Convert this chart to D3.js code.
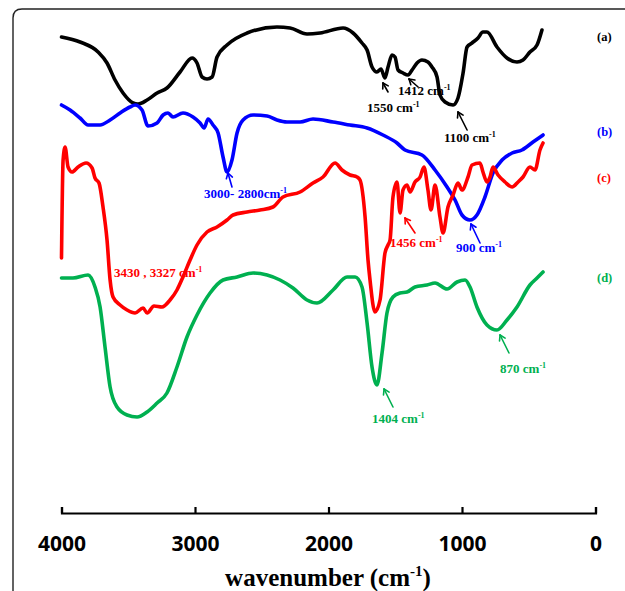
<!DOCTYPE html>
<html>
<head>
<meta charset="utf-8">
<script src="https://cdn.jsdelivr.net/npm/d3@7"></script>
<style>
  html, body { margin: 0; padding: 0; background: #fff; }
  svg { display: block; }
</style>
</head>
<body>
<svg id="chart" width="625" height="591"></svg>
<script>
// ---------------- DATA ----------------
// wavenumber (cm-1) and transmittance-like intensity (a.u., offset per trace)
const wnA = [4000,3861,3726,3659,3599,3539,3464,3427,3359,3284,3210,3112,3022,2985,2947,2910,2872,2835,2760,2610,2386,2288,2161,2063,1891,1816,1749,1711,1674,1637,1607,1577,1554,1524,1502,1479,1442,1404,1374,1337,1300,1255,1225,1187,1165,1127,1067,1030,992,962,925,880,843,813,738,663,588,543,491,438,401];
const valA = [92.6,91.6,89.6,87.4,84,81.4,79.4,79.2,80,81.4,82.4,85.6,88.4,87.4,84.6,84.2,84.6,88.6,91,93.4,94.6,94.4,93.2,93.4,94.4,93.4,91.4,90,86.6,85.6,86.2,84.4,86.6,89,88.6,86,85.4,85,86,87.4,88,87.6,86.6,84.6,81,79.6,79,80.4,85.4,90.6,91.4,92.4,93.6,93.6,90.6,88.4,87.6,88,89.6,91,94];

const wnB = [4000,3936,3861,3801,3711,3636,3561,3487,3449,3397,3352,3284,3239,3202,3165,3090,3015,2962,2932,2902,2865,2827,2790,2760,2723,2685,2640,2565,2460,2386,2311,2213,2116,1966,1839,1711,1592,1487,1427,1300,1202,1112,1052,1000,940,888,828,768,700,625,551,468,393];
const valB = [79,78,76.4,75,75,76,77.4,78.6,79,78,74.8,75.4,77,77.4,76.6,77.4,76.6,75.4,74.4,76.2,75,73.4,68.6,65.6,68,73.4,76,77,76.8,76,75.6,75.6,76.2,75.6,75,74.4,73,71.4,70,69,66,62.6,60,57,56,57,60.6,65.4,68,69.4,70,71.6,73];

const wnC = [4000,3988,3973,3951,3921,3876,3816,3771,3749,3719,3689,3659,3636,3614,3561,3509,3449,3389,3359,3307,3247,3187,3135,3090,3037,2985,2910,2835,2760,2715,2610,2513,2416,2341,2213,2116,2041,1951,1899,1839,1786,1764,1726,1704,1689,1652,1614,1577,1554,1539,1517,1487,1464,1442,1412,1389,1352,1314,1285,1255,1232,1202,1165,1142,1105,1067,1030,1000,955,925,865,843,813,790,768,730,678,625,580,543,491,453,416,393];
const valC = [48.4,68,70.6,66.6,65.6,66.6,67.4,66.4,64.4,63.4,58.6,52,44,40.6,39,38,37.4,38.4,37.4,38.8,38.6,40,42,44.6,48,51,53.6,54.6,56,57,57.6,58,58.6,60.6,61.6,63.4,64.6,67.4,66,65,64.6,64,56.6,48,44,37.6,40,49.4,51,52,60.6,63.6,57.4,62,63,61.6,63.6,64.6,66.6,62,58,63,56.6,53.4,58.6,61,63.4,62,64.6,67,67.4,65.6,63.6,64.6,66.6,65,63.6,62.6,63.6,64.6,66.6,66,70,71.4];

const wnD = [4000,3914,3801,3749,3711,3674,3636,3584,3509,3434,3359,3284,3210,3135,3060,2985,2887,2790,2685,2565,2460,2363,2266,2161,2086,1966,1861,1801,1749,1711,1674,1637,1599,1562,1517,1464,1412,1352,1262,1202,1112,1037,977,940,888,813,738,663,588,491,438,393];
const valD = [44.4,44.4,45,42.6,38.6,30.6,22.6,18.6,17,16.6,17.6,19.4,21.4,26.6,32.6,37,41.4,44,44.6,45.4,45,44,42.4,40,39.4,42,44.6,44.6,42.6,35.4,26.6,23,29.4,37.4,40.6,41.4,41.6,42.6,43,43.4,42.2,43.6,44,42.6,38.6,35,34,36,38.6,43,44.4,45.6];

const seriesNames = ["(a)", "(b)", "(c)", "(d)"];
const seriesLabelVal = [91.8, 72.8, 63.6, 43.6];
const tickValues = [4000, 3000, 2000, 1000, 0];
const xTitle = "wavenumber (cm";
const xTitleSup = "-1";

// annotations: text, series index, text anchor (wn, val), arrow tail (wn,val), arrow head (wn,val)
const annText   = ["1550 cm", "1412 cm", "1100 cm", "3000- 2800cm", "3430 , 3327 cm", "1456 cm", "900 cm", "1404 cm", "870 cm"];
const annSeries = [0, 0, 0, 1, 2, 2, 1, 3, 3];
const annTextWn = [1711, 1479, 1135, 2932, 3606, 1539, 1045, 1674, 715];
const annTextV  = [77.6, 81.0, 71.6, 60.4, 44.6, 50.6, 49.6, 15.4, 25.4];
const annTailWn = [1554, 1329, 962, 2723, null, 1352, 865, 1517, 648];
const annTailV  = [81.6, 82.6, 74, 62.6, null, 53.4, 51.4, 18.6, 29.4];
const annHeadWn = [1592, 1397, 1030, 2753, null, 1427, 933, 1584, 715];
const annHeadV  = [83.4, 84.2, 77.6, 65.4, null, 56.4, 55.2, 22.2, 33];

// ---------------- LAYOUT / STYLE ----------------
const colors = ["#000000", "#0000ff", "#ff0000", "#00b050"];
const svg = d3.select("#chart");

const x = d3.scaleLinear().domain([4000, 0]).range([61.5, 595.5]);
const y = d3.scaleLinear().domain([0, 100]).range([500, 0]);

// frame (rounded corner, extends beyond the picture on right/bottom)
svg.append("path")
  .attr("d", "M13,600 V18 Q13,9 22,9 H640")
  .attr("fill", "none")
  .attr("stroke", "#222")
  .attr("stroke-width", 1.4);

const series = [
  {wn: wnA, v: valA},
  {wn: wnB, v: valB},
  {wn: wnC, v: valC},
  {wn: wnD, v: valD}
];

const line = d3.line()
  .x(d => x(d[0]))
  .y(d => y(d[1]))
  .curve(d3.curveMonotoneX);

// annotations (text drawn under the curves, like the reference)
const annLayer = svg.append("g");

series.forEach((s, i) => {
  const pts = s.wn.map((w, k) => [w, s.v[k]]);
  svg.append("path")
    .datum(pts)
    .attr("d", line)
    .attr("fill", "none")
    .attr("stroke", colors[i])
    .attr("stroke-width", 3.6)
    .attr("stroke-linejoin", "round")
    .attr("stroke-linecap", "round");
});

// x axis
const axis = d3.axisBottom(x)
  .tickValues(tickValues)
  .tickFormat(d3.format("d"))
  .tickSizeInner(-6)
  .tickSizeOuter(-6);

const gx = svg.append("g")
  .attr("transform", "translate(0,513)")
  .call(axis);
gx.select(".domain").attr("stroke", "#000").attr("stroke-width", 2.2);
gx.selectAll(".tick line").attr("stroke", "#000").attr("stroke-width", 2.2);
gx.selectAll(".tick text")
  .attr("y", 38)
  .attr("dy", null)
  .attr("fill", "#000")
  .style("font-family", "'Open Sans', 'Liberation Sans', sans-serif")
  .style("font-weight", "bold")
  .style("font-size", "21px");

// x title
const title = svg.append("text")
  .attr("x", 328)
  .attr("y", 586)
  .attr("text-anchor", "middle")
  .style("font-family", "'Liberation Serif', 'Times New Roman', serif")
  .style("font-weight", "bold")
  .style("font-size", "25px")
  .attr("fill", "#000");
title.append("tspan").text(xTitle);
title.append("tspan").attr("dy", -10).style("font-size", "15px").text(xTitleSup);
title.append("tspan").attr("dy", 10).text(")");

// series labels
seriesNames.forEach((n, i) => {
  svg.append("text")
    .attr("x", 597)
    .attr("y", y(seriesLabelVal[i]))
    .attr("fill", colors[i])
    .style("font-family", "'Liberation Serif', 'Times New Roman', serif")
    .style("font-weight", "bold")
    .style("font-size", "12.5px")
    .text(n);
});

annText.forEach((t, i) => {
  const c = colors[annSeries[i]];
  const txt = annLayer.append("text")
    .attr("x", x(annTextWn[i]))
    .attr("y", y(annTextV[i]))
    .attr("fill", c)
    .style("font-family", "'Liberation Serif', 'Times New Roman', serif")
    .style("font-weight", "bold")
    .style("font-size", "13px");
  txt.append("tspan").text(t);
  txt.append("tspan").attr("dy", -5).style("font-size", "8px").text("-1");

  if (annTailWn[i] !== null) {
    const x1 = x(annTailWn[i]), y1 = y(annTailV[i]);
    const x2 = x(annHeadWn[i]), y2 = y(annHeadV[i]);
    const g = svg.append("g")
      .attr("stroke", c)
      .attr("stroke-width", 1.6)
      .attr("fill", "none")
      .attr("stroke-linecap", "round");
    g.append("line").attr("x1", x1).attr("y1", y1).attr("x2", x2).attr("y2", y2);
    const ang = Math.atan2(y1 - y2, x1 - x2);
    const L = 6, spread = 0.55;
    [ang - spread, ang + spread].forEach(a => {
      g.append("line")
        .attr("x1", x2).attr("y1", y2)
        .attr("x2", x2 + L * Math.cos(a))
        .attr("y2", y2 + L * Math.sin(a));
    });
  }
});
</script>
</body>
</html>
